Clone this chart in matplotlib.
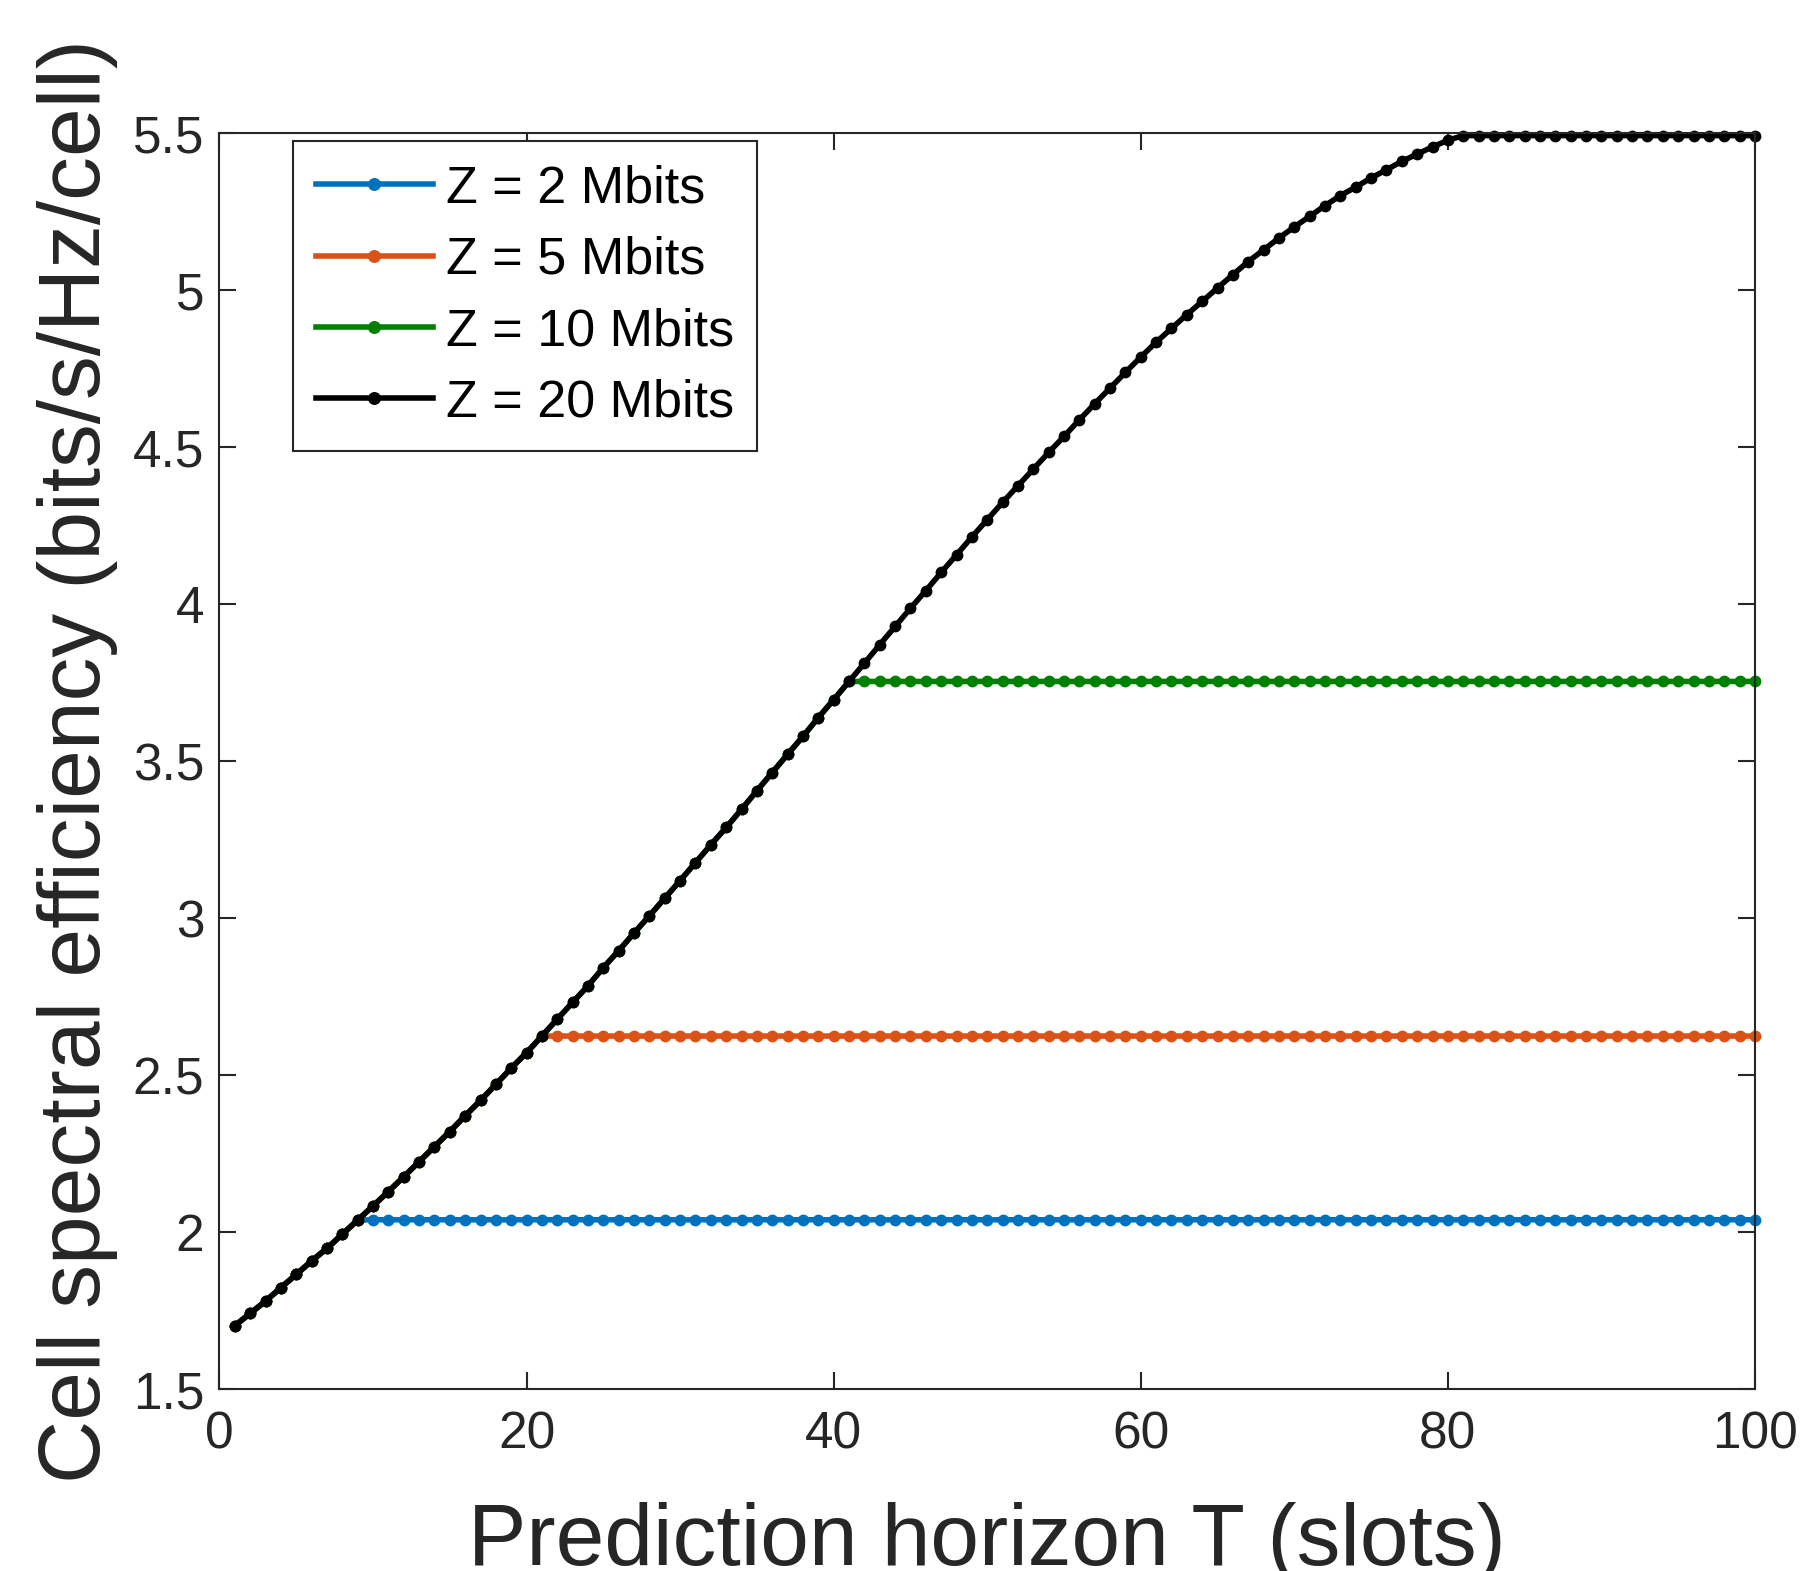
import matplotlib
matplotlib.use("Agg")
import matplotlib.pyplot as plt

plt.rcParams['font.family'] = ['Liberation Sans', 'DejaVu Sans']

# Prediction horizon T (slots)
T = list(range(1, 101))

# Z = 20 Mbits curve
z20 = [1.703, 1.742, 1.781, 1.824, 1.866, 1.909, 1.949, 1.994, 2.039, 2.084,
       2.130, 2.177, 2.225, 2.273, 2.321, 2.371, 2.420, 2.471, 2.523, 2.572,
       2.625, 2.679, 2.732, 2.785, 2.843, 2.897, 2.953, 3.008, 3.064, 3.120,
       3.177, 3.234, 3.289, 3.347, 3.406, 3.464, 3.522, 3.579, 3.639, 3.696,
       3.754, 3.812, 3.871, 3.929, 3.987, 4.043, 4.101, 4.157, 4.214, 4.269,
       4.324, 4.377, 4.430, 4.483, 4.534, 4.587, 4.638, 4.688, 4.738, 4.787,
       4.834, 4.878, 4.922, 4.964, 5.007, 5.049, 5.091, 5.128, 5.166, 5.201,
       5.235, 5.269, 5.301, 5.328, 5.357, 5.383, 5.410, 5.433, 5.456, 5.477,
       5.492, 5.492, 5.492, 5.492, 5.492, 5.492, 5.492, 5.492, 5.492, 5.492,
       5.492, 5.492, 5.492, 5.492, 5.492, 5.492, 5.492, 5.492, 5.492, 5.492]

# Smaller Z follow the same curve until they saturate
z2_sat_T, z2_level = 9, 2.040
z5_sat_T, z5_level = 21, 2.625
z10_sat_T, z10_level = 41, 3.754

z2 = z20[:z2_sat_T] + [z2_level] * (100 - z2_sat_T)
z5 = z20[:z5_sat_T] + [z5_level] * (100 - z5_sat_T)
z10 = z20[:z10_sat_T] + [z10_level] * (100 - z10_sat_T)

labels = ['Z = 2 Mbits', 'Z = 5 Mbits', 'Z = 10 Mbits', 'Z = 20 Mbits']
colors = ['#0072BD', '#D95319', '#008000', '#000000']
series = [z2, z5, z10, z20]

xticks = [0, 20, 40, 60, 80, 100]
yticks = [1.5, 2, 2.5, 3, 3.5, 4, 4.5, 5, 5.5]
yticklabels = ['1.5', '2', '2.5', '3', '3.5', '4', '4.5', '5', '5.5']

fig = plt.figure(figsize=(18.02, 15.71), dpi=100)
ax = fig.add_axes([0.1218, 0.1156, 0.8521, 0.7997])

for ys, c, lab in zip(series, colors, labels):
    ax.plot(T, ys, color=c, linewidth=4, marker='o', markersize=8.5,
            markeredgewidth=0, label=lab, clip_on=False)

ax.set_xlim(0, 100)
ax.set_ylim(1.5, 5.5)
ax.set_xticks(xticks)
ax.set_xticklabels([str(v) for v in xticks])
ax.set_yticks(yticks)
ax.set_yticklabels(yticklabels)

dark = '#262626'
for s in ax.spines.values():
    s.set_color(dark)
    s.set_linewidth(1.5)
ax.tick_params(direction='in', length=12, width=1.5, colors=dark,
               labelsize=37, top=True, right=True)
ax.tick_params(axis='x', pad=15)
ax.tick_params(axis='y', pad=11)

ax.set_xlabel('Prediction horizon T (slots)', fontsize=63, color=dark)
ax.set_ylabel('Cell spectral efficiency (bits/s/Hz/cell)', fontsize=63, color=dark)
ax.xaxis.set_label_coords(0.5, -0.0898)
ax.yaxis.set_label_coords(-0.066, 0.5)

leg = ax.legend(loc='upper left', bbox_to_anchor=(0.0477, 0.9933),
                borderaxespad=0, fontsize=37.5, handlelength=2.26,
                handletextpad=0.25, labelspacing=0.43, borderpad=0.44,
                numpoints=1, fancybox=False, framealpha=1, markerscale=1.1)
leg.get_frame().set_edgecolor(dark)
leg.get_frame().set_linewidth(1.5)

fig.savefig('out.png', dpi=100)
